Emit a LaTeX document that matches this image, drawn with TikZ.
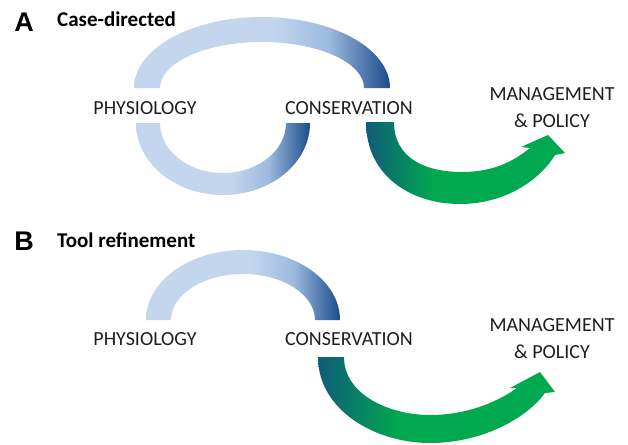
\documentclass[tikz,border=0pt]{standalone}
\usepackage{fontspec}
\setmainfont{Carlito}
\newfontfamily\tagfont{Liberation Sans}
\usetikzlibrary{positioning}
\definecolor{arclight}{HTML}{C3D6EE}
\definecolor{arcmid}{HTML}{9DBADF}
\definecolor{arcdark}{HTML}{1B4B8B}
\definecolor{flowteal}{HTML}{0F5C78}
\definecolor{flowgreen}{HTML}{00A84F}
\definecolor{ink}{HTML}{1E1E1E}
% shadings run from the left end of a band to its right end (25bp .. 75bp)
\pgfdeclarehorizontalshading{bluearc}{100bp}{color(0bp)=(arclight); color(25bp)=(arclight); color(52bp)=(arclight); color(63bp)=(arcmid); color(75bp)=(arcdark); color(100bp)=(arcdark)}
\pgfdeclarehorizontalshading{greenflow}{100bp}{color(0bp)=(flowteal); color(25bp)=(flowteal); color(42bp)=(flowgreen); color(100bp)=(flowgreen)}
\tikzset{
  word/.style={text=ink, font=\fontsize{20}{27}\selectfont, align=center, inner sep=0pt},
  tag/.style={text=black, font=\tagfont\bfseries\fontsize{27}{27}\selectfont, inner sep=0pt},
  title/.style={text=black, font=\bfseries\fontsize{21}{24}\selectfont, inner sep=0pt},
  band/.style={shading=bluearc},
  flow/.style={shading=greenflow}
}

\begin{document}
\begin{tikzpicture}[x=1pt, y=-1pt]
  \useasboundingbox (0,0) rectangle (628,444);

  % panel A
  \node[tag] (tagA) at (24,22) {A};
  \node[title, anchor=west] (titleA) at (57,19) {Case-directed};

  \path[band] (134,88) arc[start angle=180, end angle=360, x radius=128, y radius=71]
    -- (364,88) arc[start angle=0, end angle=-180, x radius=102, y radius=46] -- cycle;
  \path[band] (136,123) arc[start angle=180, end angle=0, x radius=87, y radius=72]
    -- (286,123) arc[start angle=0, end angle=180, x radius=63, y radius=50] -- cycle;
  \path[flow] (366,122) .. controls (366,175) and (410,204) .. (460,204)
    .. controls (505,204) and (540,180) .. (555,155)
    -- (565,153) -- (548,135) -- (521,147) -- (530,148)
    .. controls (515,160) and (495,172) .. (462,172)
    .. controls (425,172) and (394,158) .. (394,122) -- cycle;

  \node[word] (physA) at (145,108) {PHYSIOLOGY};
  \node[word] (consA) at (349,108) {CONSERVATION};
  \node[word] (mgmtA) at (552,108) {MANAGEMENT\\\& POLICY};

  % panel B
  \node[tag] (tagB) at (24,241) {B};
  \node[title, anchor=west] (titleB) at (57,240) {Tool refinement};

  \path[band] (146,320) arc[start angle=180, end angle=360, x radius=97, y radius=70]
    -- (315,320) arc[start angle=0, end angle=-180, x radius=72, y radius=46] -- cycle;
  \path[flow] (318,357) .. controls (318,410) and (375,443) .. (430,443)
    .. controls (480,443) and (525,420) .. (545,393)
    -- (555,392) -- (540,372) -- (510,388) -- (517,388)
    .. controls (500,400) and (470,415) .. (430,415)
    .. controls (390,415) and (344,395) .. (344,357) -- cycle;

  \node[word] (physB) at (145,339) {PHYSIOLOGY};
  \node[word] (consB) at (349,339) {CONSERVATION};
  \node[word] (mgmtB) at (552,339) {MANAGEMENT\\\& POLICY};
\end{tikzpicture}
\end{document}
